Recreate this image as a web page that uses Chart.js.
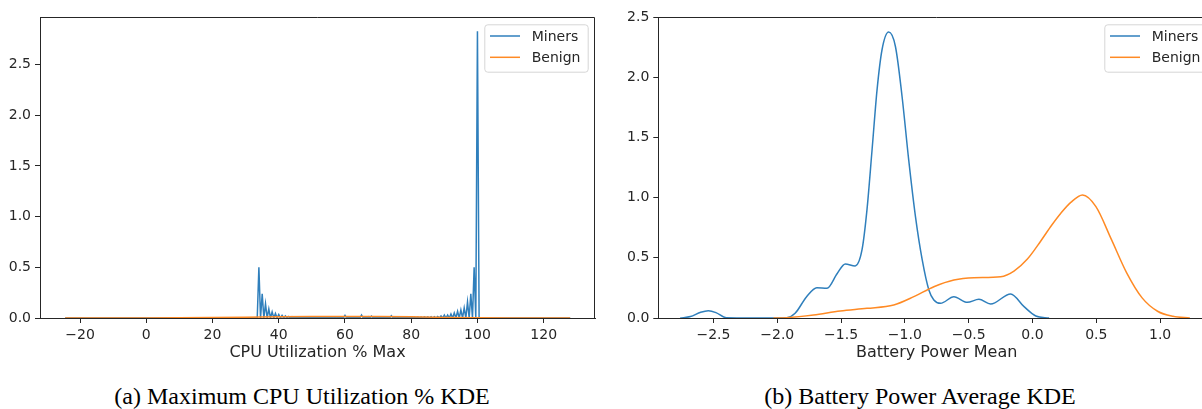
<!DOCTYPE html>
<html>
<head>
<meta charset="utf-8">
<script src="https://cdn.jsdelivr.net/npm/chart.js@4"></script>
<style>
  html, body { margin: 0; padding: 0; background: #fff; overflow: hidden; width: 1202px; height: 409px; }
  canvas { position: absolute; top: 0; }
  .caption { position: absolute; top: 383px; font-family: "Liberation Serif", serif; font-size: 24px; line-height: 26px; color: #000; white-space: nowrap; transform: translateX(-50%); }
</style>
</head>
<body>
<canvas id="cpu" width="600" height="362" style="left:0px"></canvas>
<canvas id="bat" width="620" height="362" style="left:600px"></canvas>
<div class="caption" style="left:302px">(a) Maximum CPU Utilization % KDE</div>
<div class="caption" style="left:920px">(b) Battery Power Average KDE</div>
<script>
// (a) CPU utilisation max : pics du KDE Miners sur les valeurs entières
const cpuSpikeX = [34, 35, 36, 37, 38, 39, 40, 41, 42, 43, 44, 45, 46, 47, 48, 49, 50,
  51, 52, 53, 54, 55, 56, 57, 58, 59, 60, 61, 62, 63, 64, 65, 66, 67, 68, 69, 70,
  71, 72, 73, 74, 75, 76, 77, 78, 79, 80, 81, 82, 83, 84, 85, 86, 87, 88, 89, 90,
  91, 92, 93, 94, 95, 96, 97, 98, 99, 100];
const cpuSpikeMiners = [0.50, 0.24, 0.14, 0.09, 0.06, 0.045, 0.035, 0.025, 0.02, 0.015, 0.012, 0.01, 0.01, 0.008, 0.008, 0.008, 0.008,
  0.006, 0.006, 0.006, 0.006, 0.006, 0.006, 0.006, 0.006, 0.008, 0.025, 0.006, 0.006, 0.006, 0.008, 0.03, 0.01, 0.012, 0.018, 0.008, 0.008,
  0.006, 0.008, 0.008, 0.022, 0.006, 0.006, 0.006, 0.006, 0.006, 0.006, 0.006, 0.008, 0.008, 0.01, 0.01, 0.012, 0.012, 0.015, 0.02, 0.03,
  0.03, 0.04, 0.05, 0.065, 0.08, 0.10, 0.16, 0.24, 0.50, 2.83];
const cpuMinersEnds = [-24.5, 128];
const cpuBenignX = [-24.5, 0, 20, 30, 40, 50, 60, 70, 80, 90, 100, 110, 128];
const cpuBenign = [0, 0.001, 0.005, 0.008, 0.012, 0.015, 0.016, 0.016, 0.012, 0.006, 0.002, 0, 0];
const cpuTicks = [-20, 0, 20, 40, 60, 80, 100, 120];

// (b) Battery power mean
const batMinersX = [-2.76, -2.68, -2.60, -2.54, -2.48, -2.40, -2.2, -2.0, -1.925, -1.86, -1.77, -1.69, -1.61, -1.53, -1.467, -1.39,
  -1.336, -1.297, -1.257, -1.218, -1.179, -1.127, -1.074, -1.022, -0.97, -0.917, -0.864, -0.812, -0.773, -0.72,
  -0.616, -0.511, -0.42, -0.328, -0.171, -0.066, 0.026, 0.13];
const batMiners = [0, 0.012, 0.048, 0.061, 0.045, 0.002, 0, 0, 0.002, 0.039, 0.177, 0.252, 0.247, 0.37, 0.449, 0.432,
  0.565, 0.898, 1.397, 1.895, 2.228, 2.375, 2.255, 1.84, 1.313, 0.842, 0.482, 0.233, 0.15, 0.122,
  0.177, 0.13, 0.155, 0.116, 0.2, 0.094, 0.017, 0];
const batBenignX = [-2.03, -1.925, -1.716, -1.506, -1.297, -1.087, -0.93, -0.773, -0.616, -0.459, -0.249, -0.145, -0.04,
  0.065, 0.15, 0.222, 0.3, 0.392, 0.497, 0.618, 0.738, 0.859, 0.98, 1.1, 1.233];
const batBenign = [0, 0.003, 0.025, 0.058, 0.08, 0.108, 0.177, 0.26, 0.316, 0.335, 0.343, 0.39, 0.49,
  0.64, 0.77, 0.87, 0.96, 1.022, 0.925, 0.653, 0.375, 0.167, 0.056, 0.014, 0];
const batTicks = [-2.5, -2.0, -1.5, -1.0, -0.5, 0.0, 0.5, 1.0];

const densityTicks = [0, 0.5, 1.0, 1.5, 2.0, 2.5];

const BLUE = '#2f7fbc';
const ORANGE = '#ff8a24';
const FONT = { family: 'DejaVu Sans', size: 14 };
const TITLE_FONT = { family: 'DejaVu Sans', size: 16 };

function minus(s) { return s.replace('-', '\u2212'); }

// points du KDE CPU : chaque pic entier retombe à la ligne de base entre deux valeurs
function cpuMinersPoints() {
  const pts = [{ x: cpuMinersEnds[0], y: 0 }, { x: cpuSpikeX[0] - 0.5, y: 0 }];
  cpuSpikeX.forEach((x, i) => {
    pts.push({ x: x, y: cpuSpikeMiners[i] });
    pts.push({ x: x + 0.5, y: 0 });
  });
  pts.push({ x: cpuMinersEnds[1], y: 0 });
  return pts;
}

const legendBox = {
  id: 'legendBox',
  afterDatasetsDraw(chart) {
    const ctx = chart.ctx, a = chart.chartArea;
    // cadre haut / droite
    ctx.save();
    ctx.strokeStyle = '#262626';
    ctx.lineWidth = 1;
    ctx.beginPath();
    ctx.moveTo(a.left, a.top + 0.5);
    ctx.lineTo(a.right - 0.5, a.top + 0.5);
    ctx.lineTo(a.right - 0.5, a.bottom);
    ctx.stroke();

    const w = 103.4, h = 47.4;
    const x0 = a.right - 7.3 - w, y0 = a.top + 7.3;
    ctx.fillStyle = 'rgba(255,255,255,0.8)';
    ctx.strokeStyle = '#d6d6d6';
    ctx.beginPath();
    ctx.roundRect(x0 + 0.5, y0 + 0.5, w, h, 3);
    ctx.fill();
    ctx.stroke();
    ctx.font = '14px "DejaVu Sans"';
    ctx.textBaseline = 'middle';
    chart.data.datasets.forEach((ds, i) => {
      const yy = y0 + 11.7 + i * 21.3;
      ctx.strokeStyle = ds.borderColor;
      ctx.lineWidth = 1.5;
      ctx.beginPath();
      ctx.moveTo(x0 + 5.7, yy);
      ctx.lineTo(x0 + 35.7, yy);
      ctx.stroke();
      ctx.fillStyle = '#262626';
      ctx.fillText(ds.label, x0 + 47.4, yy + 1);
    });
    ctx.restore();
  }
};

function makeChart(id, datasets, xOpts, yMax, yWidth) {
  return new Chart(document.getElementById(id), {
    type: 'line',
    data: { datasets: datasets },
    options: {
      responsive: false,
      animation: false,
      layout: { padding: { top: 17, right: 5, left: 0, bottom: 0 } },
      elements: { point: { radius: 0 }, line: { borderWidth: 1.5, tension: 0 } },
      plugins: { legend: { display: false }, tooltip: { enabled: false } },
      scales: {
        x: {
          type: 'linear',
          min: xOpts.min,
          max: xOpts.max,
          afterBuildTicks: s => { s.ticks = xOpts.ticks.map(v => ({ value: v })); },
          afterFit: s => { s.height = 44; },
          ticks: { font: FONT, color: '#262626', padding: 4, maxRotation: 0, autoSkip: false,
                   callback: xOpts.fmt },
          grid: { drawOnChartArea: false, drawTicks: true, tickLength: 5, color: '#262626' },
          border: { color: '#262626', width: 1 },
          title: { display: true, text: xOpts.title, font: TITLE_FONT, color: '#262626', padding: { top: 0, bottom: 0 } }
        },
        y: {
          min: 0,
          max: yMax,
          afterBuildTicks: s => { s.ticks = densityTicks.map(v => ({ value: v })); },
          afterFit: s => { s.width = yWidth; },
          ticks: { font: FONT, color: '#262626', padding: 4, callback: v => v.toFixed(1) },
          grid: { drawOnChartArea: false, drawTicks: true, tickLength: 5, color: '#262626' },
          border: { color: '#262626', width: 1 }
        }
      }
    },
    plugins: [legendBox]
  });
}

makeChart('cpu', [
  { label: 'Miners', data: cpuMinersPoints(), borderColor: BLUE, order: 1 },
  { label: 'Benign', data: cpuBenignX.map((x, i) => ({ x: x, y: cpuBenign[i] })), borderColor: ORANGE, order: 0 }
], {
  min: -32.1, max: 135.5, ticks: cpuTicks, title: 'CPU Utilization % Max',
  fmt: v => minus(String(v))
}, 2.97, 40);

makeChart('bat', [
  { label: 'Miners', data: batMinersX.map((x, i) => ({ x: x, y: batMiners[i] })), borderColor: BLUE, order: 1, cubicInterpolationMode: 'monotone' },
  { label: 'Benign', data: batBenignX.map((x, i) => ({ x: x, y: batBenign[i] })), borderColor: ORANGE, order: 0, cubicInterpolationMode: 'monotone' }
], {
  min: -2.932, max: 1.43, ticks: batTicks, title: 'Battery Power Mean',
  fmt: v => minus(v.toFixed(1))
}, 2.5, 58.3);
</script>
</body>
</html>
